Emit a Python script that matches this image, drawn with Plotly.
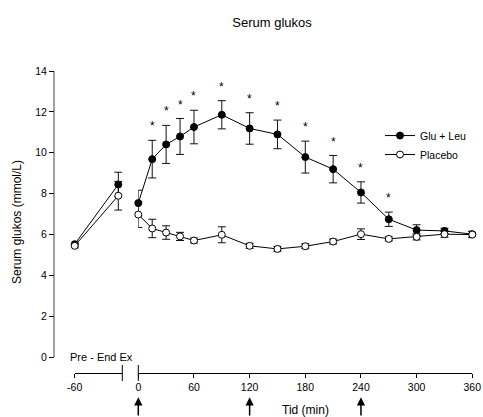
import plotly.graph_objects as go

# ---- data ----
pre_labels = ["Pre", "End Ex"]
pre_x = [-60, -13]
glu_pre = [5.53, 8.45]
glu_pre_sem = [0.10, 0.60]
pla_pre = [5.45, 7.90]
pla_pre_sem = [0.10, 0.70]

time = [0, 15, 30, 45, 60, 90, 120, 150, 180, 210, 240, 270, 300, 330, 360]
glu = [7.54, 9.69, 10.41, 10.80, 11.26, 11.86, 11.19, 10.90, 9.79, 9.20, 8.06, 6.75, 6.22, 6.18, 6.02]
glu_sem = [0.63, 0.92, 0.93, 0.88, 0.82, 0.69, 0.77, 0.70, 0.78, 0.67, 0.52, 0.35, 0.26, 0.13, 0.15]
pla = [6.98, 6.30, 6.10, 5.91, 5.71, 5.99, 5.45, 5.30, 5.43, 5.66, 6.02, 5.79, 5.89, 6.02, 6.00]
pla_sem = [0.63, 0.45, 0.33, 0.20, 0.12, 0.39, 0.12, 0.12, 0.12, 0.12, 0.26, 0.10, 0.15, 0.15, 0.15]
signif = [False, True, True, True, True, True, True, True, True, True, True, True, False, False, False]
arrow_times = [0, 120, 240]
x_ticks = [-60, 0, 60, 120, 180, 240, 300, 360]
x_ticklabels = ["-60", "0", "60", "120", "180", "240", "300", "360"]
y_ticks = [0, 2, 4, 6, 8, 10, 12, 14]

FONT = "Liberation Sans, Arial, Helvetica, sans-serif"
INK = "#000000"

W, H = 483, 417

ML = 54
MT = 71
plot_right = 474
plot_bottom = 372.7
MR = W - plot_right
MB = H - plot_bottom
PW = plot_right - ML
PH = plot_bottom - MT

def xdom(px):
    return (px - ML) / PW

def ypaper(py):
    return (plot_bottom - py) / PH

fig = go.Figure()

def err(vals):
    return dict(type="data", array=vals, visible=True, color="#111", thickness=1, width=4)

filled = dict(symbol="circle", size=7, color="black", line=dict(color="black", width=1))
hollow = dict(symbol="circle", size=7, color="white", line=dict(color="black", width=1))

# pre / end exercise segment
fig.add_trace(go.Scatter(x=pre_x, y=glu_pre, xaxis="x2", yaxis="y", mode="lines+markers",
                         line=dict(color="black", width=1), marker=filled,
                         error_y=err(glu_pre_sem), showlegend=False, cliponaxis=False,
                         text=pre_labels))
fig.add_trace(go.Scatter(x=pre_x, y=pla_pre, xaxis="x2", yaxis="y", mode="lines+markers",
                         line=dict(color="black", width=1), marker=hollow,
                         error_y=err(pla_pre_sem), showlegend=False, cliponaxis=False,
                         text=pre_labels))

# main time course
fig.add_trace(go.Scatter(x=time, y=glu, mode="lines+markers", name="Glu + Leu",
                         line=dict(color="black", width=1), marker=filled,
                         error_y=err(glu_sem), cliponaxis=False))
fig.add_trace(go.Scatter(x=time, y=pla, mode="lines+markers", name="Placebo",
                         line=dict(color="black", width=1), marker=hollow,
                         error_y=err(pla_sem), cliponaxis=False))

annotations = []
# significance asterisks
for t, m, s, sig in zip(time, glu, glu_sem, signif):
    if sig:
        annotations.append(dict(x=t, y=m + s + 0.68, xref="x", yref="y", text="*",
                                showarrow=False, font=dict(family=FONT, size=12, color=INK),
                                yanchor="middle"))

# arrows below the axis
tip_y = ypaper(397)
for t in arrow_times:
    annotations.append(dict(x=t, y=tip_y, xref="x", yref="paper", text="", showarrow=True,
                            ax=0, ay=24, axref="pixel", ayref="pixel", arrowhead=2,
                            arrowsize=1.1, arrowwidth=1.5, arrowcolor=INK))

# "Pre - End Ex" label
annotations.append(dict(x=-60, y=0, xref="x2", yref="y", text="Pre - End Ex", showarrow=False,
                        xanchor="left", yanchor="middle", xshift=-7,
                        font=dict(family=FONT, size=11, color=INK)))

# x axis title
annotations.append(dict(x=0.5, y=ypaper(410), xref="x domain", yref="paper", text="Tid (min)",
                        showarrow=False, xanchor="center", yanchor="middle",
                        font=dict(family=FONT, size=12, color=INK)))

shapes = []
# y axis line from 0 to 14
shapes.append(dict(type="line", xref="paper", yref="y", x0=0, x1=0, y0=0, y1=14,
                   line=dict(color="#444", width=1)))
# axis break marks
bh = 8 / PH
shapes.append(dict(type="line", xref="x2 domain", yref="paper", x0=1, x1=1, y0=-bh, y1=bh,
                   line=dict(color=INK, width=1)))
shapes.append(dict(type="line", xref="x domain", yref="paper", x0=0, x1=0, y0=-bh, y1=bh,
                   line=dict(color=INK, width=1)))

x2_end = -60 + (122.3 - 74.7) / (55.67 / 60)
px_per_unit = (357 - 71) / 14

fig.update_layout(
    width=W, height=H,
    margin=dict(l=ML, r=MR, t=MT, b=MB, pad=0, autoexpand=False),
    paper_bgcolor="white", plot_bgcolor="white",
    hovermode=False,
    font=dict(family=FONT, size=11, color=INK),
    title=dict(text="Serum glukos", x=272 / W, xanchor="center", y=1 - 22 / H,
               yanchor="middle", font=dict(family=FONT, size=13, color=INK), automargin=False),
    xaxis=dict(domain=[xdom(138.3), xdom(472.3)], range=[0, 360], anchor="y",
               tickvals=[t for t in x_ticks if t >= 0],
               ticktext=[l for t, l in zip(x_ticks, x_ticklabels) if t >= 0],
               ticks="outside", ticklen=4, automargin=False, ticklabeloverflow="allow",
               tickcolor=INK, showline=True, linecolor=INK, linewidth=1,
               showgrid=False, zeroline=False, tickfont=dict(size=10.5)),
    xaxis2=dict(domain=[xdom(74.7), xdom(122.3)], range=[-60, x2_end], anchor="y",
                tickvals=[t for t in x_ticks if t < 0],
                ticktext=[l for t, l in zip(x_ticks, x_ticklabels) if t < 0],
                ticks="outside", ticklen=4, automargin=False,
                tickcolor=INK, showline=True, linecolor=INK, linewidth=1,
                showgrid=False, zeroline=False, tickfont=dict(size=10.5)),
    yaxis=dict(range=[-(372.7 - 357) / px_per_unit, 14], anchor="free", position=0,
               tickvals=y_ticks, ticks="outside", ticklen=5, tickcolor=INK, automargin=False,
               showline=False, showgrid=False, zeroline=False, tickfont=dict(size=10.5),
               title=dict(text="Serum glukos (mmol/L)", font=dict(size=12), standoff=10)),
    legend=dict(x=xdom(380), y=ypaper(121), xref="paper", yref="paper",
                xanchor="left", yanchor="top", bgcolor="rgba(0,0,0,0)",
                font=dict(family=FONT, size=10.5, color=INK), itemwidth=30,
                tracegroupgap=0),
    annotations=annotations,
    shapes=shapes,
)

fig.write_html(
    "out.html",
    config={"displayModeBar": False},
    post_script="document.body.style.margin='0';document.body.style.overflow='hidden';",
)
